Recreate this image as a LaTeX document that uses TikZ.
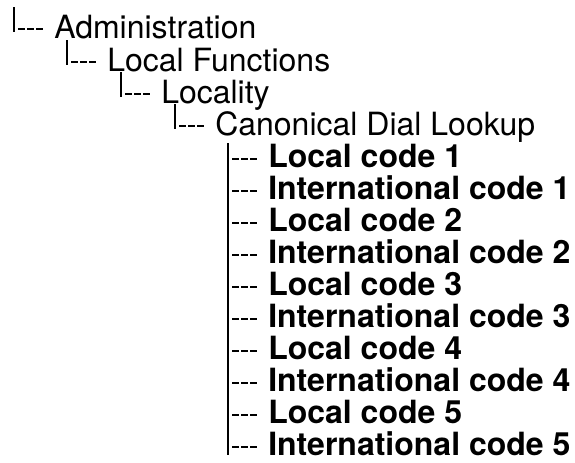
\documentclass[tikz,border=0pt]{standalone}
\usepackage{fontspec}
\setmainfont{TeX Gyre Heros}
\usetikzlibrary{calc}
\begin{document}
\begin{tikzpicture}[x=0.75pt,y=-0.75pt,
  lbl/.style={anchor=base west,inner sep=0pt,font=\fontsize{24}{28}\selectfont},
  blbl/.style={anchor=base west,inner sep=0pt,font=\fontsize{24}{28}\selectfont\bfseries},
  barline/.style={line width=1.4pt},
  dashline/.style={line width=1.1pt,dash pattern=on 5.25pt off 1.5pt}]
\useasboundingbox (0,0) rectangle (575,462);
% top-level chain
\node[lbl] (admin) at (54,38) {Administration};
\node[lbl] (locfun) at (107,71) {Local Functions};
\node[lbl] (locality) at (161,103) {Locality};
\node[lbl] (canon) at (215,135) {Canonical Dial Lookup};
% children
\node[blbl] (c1) at (268,167) {Local code 1};
\node[blbl] (c2) at (268,199) {International code 1};
\node[blbl] (c3) at (268,231) {Local code 2};
\node[blbl] (c4) at (268,263) {International code 2};
\node[blbl] (c5) at (268,295) {Local code 3};
\node[blbl] (c6) at (268,327) {International code 3};
\node[blbl] (c7) at (268,359) {Local code 4};
\node[blbl] (c8) at (268,391) {International code 4};
\node[blbl] (c9) at (268,423) {Local code 5};
\node[blbl] (c10) at (268,455) {International code 5};
% connectors of the chain
\foreach \n in {admin,locfun,locality,canon}{
  \draw[barline] ($(\n.base west)+(-40,-31)$) -- ($(\n.base west)+(-40,-6)$);
  \draw[dashline] ($(\n.base west)+(-36,-9)$) -- ($(\n.base west)+(-11,-9)$);
}
% connectors of the children
\draw[barline] ($(c1.base west)+(-40,-24)$) -- ($(c10.base west)+(-40,0)$);
\foreach \n in {c1,c2,c3,c4,c5,c6,c7,c8,c9,c10}{
  \draw[dashline] ($(\n.base west)+(-36,-8)$) -- ($(\n.base west)+(-11,-8)$);
}
\end{tikzpicture}
\end{document}
